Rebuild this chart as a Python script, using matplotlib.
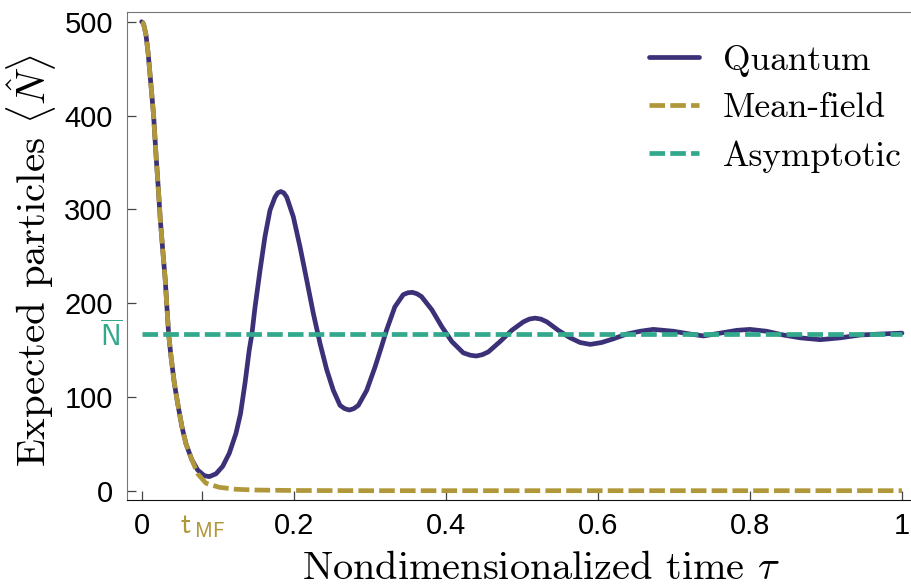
import matplotlib
matplotlib.use("Agg")
import matplotlib.pyplot as plt

# values
tau_quantum = [0.000, 0.0015, 0.003, 0.0057, 0.0087, 0.0113, 0.0136, 0.0158, 0.0175, 0.0192, 0.021,
               0.0228, 0.0245, 0.0267, 0.0284, 0.031, 0.0329, 0.0355, 0.0386, 0.0429, 0.0474,
               0.053, 0.0583, 0.066, 0.0737, 0.0824, 0.089, 0.0978, 0.1066, 0.1153, 0.124,
               0.130, 0.136, 0.1415, 0.145, 0.149, 0.1557, 0.1622, 0.1688, 0.1754, 0.179, 0.183,
               0.187, 0.1908, 0.1995, 0.2083, 0.217, 0.2258, 0.2346, 0.2434, 0.2521, 0.2609, 0.267,
               0.2732, 0.279, 0.285, 0.296, 0.307, 0.316, 0.322, 0.333, 0.344, 0.350, 0.356, 0.362,
               0.368, 0.3816, 0.3947, 0.408, 0.423, 0.432, 0.44, 0.448, 0.456, 0.4714, 0.4868,
               0.502, 0.510, 0.5175, 0.525, 0.533, 0.548, 0.5636, 0.5767, 0.59, 0.605, 0.6206,
               0.638, 0.6557, 0.673, 0.6995, 0.7214, 0.739, 0.761, 0.783, 0.80, 0.822, 0.844,
               0.866, 0.8925, 0.919, 0.945, 0.971, 1.0]
n_quantum = [500, 499, 496, 486, 465, 441, 420, 399, 376, 354, 333,
             311, 289, 267, 250, 225, 200, 167, 143, 115, 93,
             68, 50, 33, 22, 16, 15, 18, 26, 40, 61,
             82, 115, 150, 167, 195, 235, 271, 299, 313, 317.5, 319,
             317.5, 313, 292, 260, 225, 189, 157, 129, 107, 91, 87.5,
             86, 87.5, 91, 107, 132, 155, 171, 196, 209, 211, 211.5, 210,
             207, 193, 175, 159, 147, 144.5, 143.6, 145, 148, 159, 171,
             180, 183, 184, 183, 180, 171, 163, 158, 156, 158, 162,
             167, 170, 172, 170, 167, 165, 168, 171, 172, 170, 166,
             163, 161, 163, 166, 167, 168]

tau_meanfield = [0.000, 0.0015, 0.003, 0.0057, 0.0087, 0.0113, 0.0136, 0.0158, 0.0175, 0.0192, 0.021,
                 0.0228, 0.0245, 0.0267, 0.0284, 0.031, 0.0329, 0.0355, 0.0386, 0.0429, 0.0474,
                 0.053, 0.0583, 0.066, 0.0737, 0.0846, 0.102, 0.124, 0.15, 0.2, 0.3, 1.0]
n_meanfield = [500, 499, 496, 486, 465, 441, 420, 399, 376, 354, 333,
               311, 289, 267, 250, 225, 200, 167, 143, 115, 93,
               68, 50, 33, 18, 8, 3.6, 1.5, 0.7, 0.2, 0, 0]

tau_asym = [0.0, 1.0]
n_bar = 500 / 3

t_mf = 0.08
x_ticks = [0, t_mf, 0.2, 0.4, 0.6, 0.8, 1]
x_labels = ["0", r"$\mathsf{t}_{\,\mathsf{MF}}$", "0.2", "0.4", "0.6", "0.8", "1"]
y_ticks = [0, 100, 200, 300, 400, 500]

c_quantum = "#3b3178"
c_mf = "#b0983a"
c_asym = "#32a88c"

plt.rcParams["mathtext.fontset"] = "cm"
plt.rcParams["font.family"] = ["Liberation Sans", "DejaVu Sans"]

fig = plt.figure(figsize=(9.12, 5.86), dpi=100)
ax = fig.add_axes([0.1389, 0.1468, 1 - 0.1389, 0.98 - 0.1468])

ax.plot(tau_quantum, n_quantum, color=c_quantum, lw=3.4, solid_capstyle="round",
        label="Quantum", zorder=3)
ax.plot(tau_meanfield, n_meanfield, color=c_mf, lw=3.4, dashes=(3.3, 1.1),
        label="Mean-field", zorder=4)
ax.plot(tau_asym, [n_bar, n_bar], color=c_asym, lw=3.4, dashes=(3.3, 1.1),
        label="Asymptotic", zorder=5)

ax.set_xlim(-0.0197, 1.0132)
ax.set_ylim(-9.9, 510.7)

ax.set_xticks(x_ticks)
ax.set_xticklabels(x_labels)
ax.get_xticklabels()[1].set_color(c_mf)
ax.set_yticks(y_ticks)
ax.tick_params(direction="in", length=6.5, width=0.9, color="#444444",
               labelsize=21, top=False, right=False)
ax.tick_params(axis="x", pad=9)
ax.tick_params(axis="y", pad=10)

ax.text(-0.019, n_bar - 2, r"$\overline{\mathsf{N}}$", color=c_asym, fontsize=21,
        ha="center", va="center", transform=ax.get_yaxis_transform())

for side in ["left", "top"]:
    ax.spines[side].set_color("#777777")
ax.spines["bottom"].set_color("#111111")
ax.spines["right"].set_visible(False)

ax.set_xlabel(r"Nondimensionalized time $\tau$", fontsize=29, family="cmr10")
ax.set_ylabel(r"Expected particles $\langle\hat{N}\rangle$", fontsize=29.5, family="cmr10")
ax.xaxis.set_label_coords(0.5276, -0.104)
ax.yaxis.set_label_coords(-0.087, 0.49)

ax.legend(loc="upper right", bbox_to_anchor=(1.028, 0.998), frameon=False,
          prop={"family": "cmr10", "size": 25.5}, handlelength=1.41,
          handletextpad=0.68, labelspacing=0.45)

fig.savefig("out.png", dpi=100)
